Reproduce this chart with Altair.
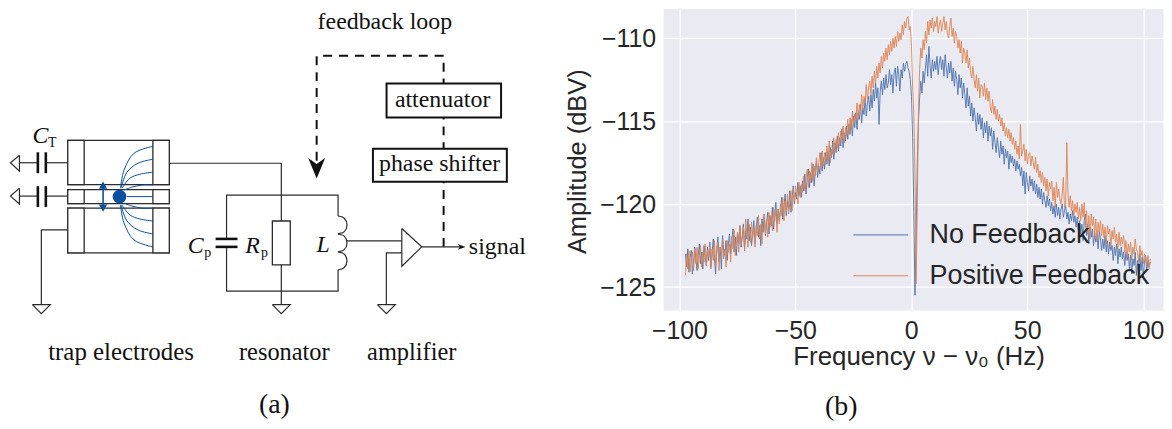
import altair as alt
import pandas as pd

# ---------- measured spectra (dBV), one value per 0.5 Hz bin ----------
START_HZ = -97.4
STEP_HZ = 0.5
NO_FEEDBACK = [
 -123.0,-123.8,-122.7,-124.1,-123.2,-122.8,-124.2,-123.5,-122.6,-123.3,-124.0,-123.1,-122.4,-123.6,-122.9,-123.9,-122.5,-123.2,-123.7,-122.6,
 -123.4,-122.3,-123.8,-122.9,-122.1,-123.3,-124.2,-122.7,-122.0,-123.5,-122.6,-123.9,-121.9,-122.8,-123.1,-122.2,-123.4,-122.4,-121.8,-123.0,
 -122.2,-121.5,-122.9,-122.0,-123.1,-121.7,-122.4,-121.3,-122.6,-121.9,-121.2,-122.8,-121.6,-122.1,-120.9,-122.2,-121.4,-122.5,-121.8,-121.0,
 -122.4,-121.6,-120.8,-122.0,-121.3,-122.5,-120.9,-121.7,-120.6,-121.9,-121.1,-120.5,-121.8,-120.7,-121.3,-120.2,-121.5,-120.6,-119.9,-121.2,
 -120.3,-121.0,-120.4,-119.6,-120.9,-120.1,-119.4,-120.7,-119.8,-120.3,-119.2,-120.5,-119.6,-118.9,-120.0,-119.3,-119.7,-118.7,-119.5,-118.9,
 -119.6,-118.6,-119.2,-118.2,-119.4,-118.5,-117.9,-119.0,-118.1,-118.7,-117.6,-118.9,-118.0,-117.4,-118.4,-117.7,-118.2,-116.9,-118.0,-117.2,
 -117.9,-116.9,-117.6,-116.8,-117.7,-116.6,-117.2,-116.2,-117.3,-116.3,-116.9,-115.9,-116.8,-116.0,-116.5,-115.5,-116.6,-115.7,-116.2,-115.3,
 -116.1,-115.2,-115.8,-114.9,-115.9,-114.7,-115.4,-114.5,-115.5,-114.5,-114.9,-114.0,-115.1,-114.2,-114.6,-113.6,-114.7,-113.9,-113.5,-114.4,
 -113.4,-114.2,-113.1,-113.8,-112.7,-113.6,-113.0,-115.2,-113.2,-112.6,-113.4,-112.4,-113.1,-112.2,-113.0,-112.7,-111.9,-112.8,-112.2,-113.3,
 -112.1,-111.8,-112.9,-111.7,-112.2,-113.2,-111.9,-112.4,-111.5,-112.0,-111.6,-111.4,-111.8,-112.0,-112.5,-113.5,-116.0,-120.5,-125.5,-122.0,
 -117.5,-115.0,-113.6,-112.6,-113.3,-112.0,-112.7,-111.8,-111.0,-112.3,-110.5,-111.6,-112.4,-111.3,-112.0,-111.4,-111.9,-111.1,-112.2,-111.5,
 -111.1,-111.9,-111.3,-112.3,-111.0,-111.8,-112.4,-111.5,-112.1,-111.4,-112.6,-111.8,-112.9,-112.0,-112.5,-113.4,-112.2,-113.0,-112.4,-113.6,
 -112.7,-113.4,-114.2,-113.0,-114.1,-113.5,-114.7,-113.9,-115.0,-114.2,-114.8,-115.6,-114.5,-115.2,-114.6,-115.5,-114.8,-116.0,-115.1,-115.7,
 -115.0,-116.2,-115.3,-115.9,-115.4,-116.7,-115.6,-116.3,-116.9,-116.0,-116.6,-117.2,-116.2,-117.0,-116.5,-117.6,-116.7,-117.2,-116.8,-117.9,
 -117.0,-117.5,-117.1,-117.7,-117.3,-118.0,-117.4,-117.9,-117.6,-118.3,-117.8,-118.9,-118.0,-119.4,-118.1,-118.7,-119.2,-118.3,-118.9,-118.5,
 -119.2,-118.6,-119.4,-118.8,-119.6,-119.0,-119.7,-119.1,-120.0,-119.3,-119.8,-120.2,-119.5,-120.1,-119.7,-120.4,-119.9,-120.6,-120.1,-120.8,
 -120.0,-120.7,-120.2,-120.9,-120.3,-120.0,-120.8,-120.4,-120.1,-120.9,-120.5,-121.2,-120.6,-121.0,-120.4,-121.1,-120.7,-121.4,-120.8,-121.6,
 -121.0,-121.8,-121.2,-122.2,-121.0,-120.6,-121.9,-121.2,-122.4,-121.4,-122.0,-121.5,-122.5,-121.7,-122.3,-121.8,-122.7,-121.6,-122.1,-122.8,
 -122.1,-122.7,-121.9,-122.9,-122.2,-123.0,-122.3,-122.8,-122.5,-123.4,-122.6,-123.1,-122.4,-123.6,-122.7,-123.2,-122.6,-123.3,-122.9,-123.7,
 -122.9,-123.4,-123.0,-123.9,-123.1,-124.2,-123.3,-123.7,-122.9,-124.3,-123.4,-123.8,-123.0,-124.0,-123.2,-124.4,-123.5,-123.1,-124.0,-123.4,
 -123.8,-123.5,
]
POSITIVE_FEEDBACK = [
 -124.3,-123.0,-123.9,-122.8,-124.1,-123.3,-122.9,-124.0,-122.7,-123.6,-122.6,-123.9,-123.1,-122.5,-123.8,-122.9,-123.5,-122.4,-123.7,-122.8,
 -123.2,-122.5,-123.9,-122.7,-123.4,-122.2,-123.7,-122.9,-122.3,-124.0,-122.6,-123.0,-122.1,-123.3,-122.7,-123.8,-122.2,-122.9,-122.4,-123.5,
 -122.0,-122.7,-121.6,-123.1,-122.2,-121.7,-122.9,-121.3,-122.4,-122.1,-121.4,-122.8,-120.9,-121.9,-122.6,-121.2,-122.3,-121.1,-122.0,-121.5,
 -122.6,-121.3,-121.9,-120.7,-122.1,-121.2,-122.4,-121.0,-120.6,-121.8,-120.9,-122.0,-120.5,-121.4,-120.7,-121.6,-120.2,-121.0,-120.4,-121.7,
 -120.3,-121.2,-120.0,-120.7,-119.6,-121.0,-119.8,-120.4,-119.4,-120.6,-119.9,-119.2,-120.4,-119.1,-119.8,-118.9,-119.5,-120.0,-118.7,-119.6,
 -118.8,-119.3,-118.3,-119.2,-118.5,-117.9,-119.0,-118.0,-118.7,-117.5,-118.6,-117.7,-118.3,-117.2,-118.1,-117.5,-116.9,-117.9,-116.8,-117.7,
 -116.9,-117.6,-116.5,-117.3,-116.2,-117.5,-116.7,-117.0,-116.0,-116.9,-116.1,-116.6,-115.7,-116.5,-115.6,-116.2,-115.3,-116.3,-115.4,-115.9,
 -114.9,-115.8,-114.8,-115.5,-114.4,-115.3,-114.6,-115.0,-113.9,-114.9,-114.0,-114.5,-113.4,-114.3,-113.5,-113.9,-112.8,-113.7,-113.0,-112.6,
 -113.4,-112.3,-113.0,-112.0,-112.7,-111.7,-112.4,-111.5,-112.1,-111.1,-111.8,-110.9,-111.4,-110.6,-111.3,-110.4,-111.0,-110.2,-110.8,-110.0,
 -110.6,-109.9,-110.5,-109.6,-110.2,-109.7,-110.1,-109.2,-109.8,-109.0,-109.4,-108.8,-108.7,-109.5,-109.3,-110.5,-113.0,-114.6,-118.0,-124.8,
 -120.0,-114.5,-111.9,-110.6,-111.2,-110.1,-110.7,-109.6,-110.3,-109.0,-109.8,-108.9,-109.4,-108.8,-109.6,-109.0,-109.3,-108.7,-109.7,-109.2,
 -108.9,-109.6,-109.1,-108.7,-109.5,-109.0,-109.7,-110.0,-109.3,-108.8,-109.9,-109.4,-110.3,-109.6,-109.9,-110.6,-110.1,-110.9,-110.2,-111.5,
 -110.6,-110.9,-111.5,-110.7,-111.8,-111.2,-112.1,-112.4,-111.7,-112.5,-113.0,-112.2,-113.2,-112.4,-113.6,-112.8,-112.9,-113.5,-112.7,-113.7,
 -113.0,-113.8,-113.2,-114.2,-114.5,-113.7,-114.6,-114.1,-114.9,-114.3,-115.0,-114.6,-115.3,-114.8,-115.6,-115.1,-115.9,-115.4,-116.0,-115.5,
 -116.2,-115.7,-116.4,-116.0,-116.7,-116.2,-117.0,-116.5,-117.3,-115.2,-117.1,-116.8,-116.4,-117.4,-116.7,-117.6,-117.0,-116.9,-117.7,-117.1,
 -117.5,-117.9,-117.2,-118.1,-117.6,-118.4,-118.0,-118.7,-118.1,-118.9,-118.4,-119.2,-118.5,-119.5,-118.7,-119.1,-118.6,-119.8,-119.0,-120.2,
 -118.7,-119.6,-119.1,-119.7,-120.0,-119.4,-118.4,-120.2,-120.1,-116.3,-119.4,-120.2,-119.5,-120.4,-119.8,-120.7,-120.0,-120.5,-119.9,-120.9,
 -120.2,-121.0,-120.0,-120.8,-119.9,-121.4,-120.4,-121.8,-120.7,-122.1,-120.6,-121.3,-120.8,-121.9,-120.9,-122.2,-121.1,-121.7,-121.0,-121.9,
 -121.2,-122.0,-121.4,-122.4,-121.3,-121.8,-121.5,-122.6,-121.6,-122.1,-121.4,-122.3,-121.8,-122.8,-121.7,-122.5,-122.0,-122.4,-121.9,-122.9,
 -122.2,-123.2,-122.4,-122.9,-122.3,-123.4,-122.6,-123.0,-122.1,-122.7,-122.9,-123.5,-122.5,-123.1,-122.8,-123.6,-123.0,-123.3,-123.7,-123.1,
 -123.9,-123.3,
]
SERIES = ["No Feedback", "Positive Feedback"]
COLORS = ["#4C72B0", "#DD8452"]
X_TICKS = [-100, -50, 0, 50, 100]
Y_TICKS = [-110, -115, -120, -125]

SERIF = "Liberation Serif"
SANS = "Liberation Sans"
INK = "#262626"
WIRE = "#2b2b2b"
BLUE = "#0A50A1"

# ---------- schematic geometry, in drawing units ----------
WIRES = {
 "top_cap_l": [(17,162.5),(35,162.5)], "top_cap_r": [(44,162.5),(65.5,162.5)],
 "mid_cap_l": [(17,196),(35,196)], "mid_cap_r": [(44,196),(65.5,196)],
 "tri_t": [(17,155),(8,162.5),(17,171),(17,155)],
 "tri_m": [(17,188),(8,196),(17,204),(17,188)],
 "bot_lead": [(65.5,230),(39,230),(39,305)],
 "gnd1": [(30,305),(48,305),(39,314),(30,305)],
 "res_lead": [(167.5,163),(280,163),(280,305)],
 "gnd2": [(271,305),(289,305),(280,314),(271,305)],
 "loop_top": [(225,239),(225,195),(337,195),(337,216)],
 "loop_bot": [(225,247),(225,291.5),(337,291.5),(337,270)],
 "tap": [(346,241),(401,241)],
 "amp": [(401,228.5),(421,247),(401,266.5),(401,228.5)],
 "amp_lead": [(401,253),(385.5,253),(385.5,305)],
 "gnd3": [(376.5,305),(394.5,305),(385.5,314),(376.5,305)],
 "out": [(421,247),(460,247)],
}
COIL = [(337,216),(343,218),(346,225),(343,232),(337,234),(343,236),(346,243),(343,250),
        (337,252),(343,254),(346,261),(343,268),(337,270)]
PLATES = {
 "ct1": [(35.5,152),(35.5,173)], "ct2": [(43.5,152),(43.5,173)],
 "cm1": [(35.5,186),(35.5,207)], "cm2": [(43.5,186),(43.5,207)],
 "cp1": [(214,239),(236,239)], "cp2": [(214,247),(236,247)],
}
FEEDBACK = [(443,247),(443,55),(315.5,55),(315.5,165)]
FIELD = {
 "f1": [(118.5,188),(122,170),(132,153),(151,146)],
 "f2": [(119,188),(125,172),(136,163),(151,159)],
 "f3": [(120,188),(128,178),(138,174),(151,172)],
 "f4": [(122,190),(130,187),(140,185),(151,185)],
 "f5": [(125,196.5),(151,196.5)],
 "f6": [(122,203),(130,206),(140,208),(151,208)],
 "f7": [(120,205),(128,215),(138,219),(151,221)],
 "f8": [(119,205),(125,221),(136,230),(151,234)],
 "f9": [(118.5,205),(122,223),(132,240),(151,247)],
}
ELECTRODES = [(65.5,167.5,140,184.5),(65.5,167.5,189.5,203.5),(65.5,167.5,208,253),
              (65.5,82,140,184.5),(65.5,82,189.5,203.5),(65.5,82,208,253),
              (151,167.5,140,184.5),(151,167.5,189.5,203.5),(151,167.5,208,253),
              (271,289,221,265)]
BOXES = [(385.7,500.7,83,117),(372,506.5,148.5,181.5)]
LABELS = [("feedback loop",384,28,24),("attenuator",442,107,24),("phase shifter",439,171,24),
          ("signal",497,254,24),("trap electrodes",119,361,25),("resonator",283,361,24.5),
          ("amplifier",411,361,24.5),("(a)",273,414,28),("T",50,147,14),("p",206,257,14),("p",263,257,14)]
ITALICS = [("C",38,143,24),("C",194,253,24),("R",251,253,24),("L",322,252,24)]

def path_frame(paths):
    return pd.DataFrame([{"path":k,"i":i,"x":p[0],"y":p[1]} for k,v in paths.items() for i,p in enumerate(v)])

LEFT_W = 552
xs = alt.Scale(domain=[12.5, 12.5+LEFT_W], nice=False, zero=False)
ys = alt.Scale(domain=[429, 8], nice=False, zero=False)
X = alt.X("x:Q", scale=xs, axis=None)
Y = alt.Y("y:Q", scale=ys, axis=None)

def lines(paths, **kw):
    return alt.Chart(path_frame(paths)).mark_line(**kw).encode(X, Y, detail="path:N", order="i:Q")

def rects(rows, **kw):
    df = pd.DataFrame(rows, columns=["x","x2","y","y2"])
    return alt.Chart(df).mark_rect(**kw).encode(X, x2="x2:Q", y=Y, y2="y2:Q")

def texts(rows, **kw):
    df = pd.DataFrame(rows, columns=["t","x","y","s"])
    return alt.Chart(df).mark_text(font=SERIF, color="#111111", baseline="alphabetic", align="center", **kw).encode(
        X, Y, text="t:N", size=alt.Size("s:Q", scale=None, legend=None))

def point(x, y, **kw):
    return alt.Chart(pd.DataFrame({"x":[x],"y":[y]})).mark_point(filled=True, opacity=1, **kw).encode(X, Y)

schematic = alt.layer(
    lines({"fb":FEEDBACK}, stroke="#111111", strokeWidth=2, strokeDash=[9,7]),
    lines(WIRES, stroke=WIRE, strokeWidth=1.2),
    lines({"coil":COIL}, stroke=WIRE, strokeWidth=1.2, interpolate="cardinal"),
    lines(PLATES, stroke="#111111", strokeWidth=2.6),
    rects(ELECTRODES, fill="white", stroke=WIRE, strokeWidth=1.3),
    rects(BOXES, fill="white", stroke="#111111", strokeWidth=2),
    lines(FIELD, stroke=BLUE, strokeWidth=1, interpolate="catmull-rom"),
    lines({"motion":[(101,183),(101,210)]}, stroke=BLUE, strokeWidth=1.6),
    point(101, 185, shape="triangle-up", size=70, color=BLUE),
    point(101, 208, shape="triangle-down", size=70, color=BLUE),
    point(117.5, 196.5, shape="circle", size=190, color=BLUE),
    point(315.5, 168, shape="M-1,-1.2L0,-0.5L1,-1.2L0,1.2Z", size=290, color="#111111"),
    point(461, 247, shape="M-1,-0.7L-0.4,0L-1,0.7L1,0Z", size=64, color="#111111"),
    texts(LABELS),
    texts(ITALICS, fontStyle="italic"),
).properties(width=LEFT_W, height=421, view=alt.ViewConfig(stroke=None, fill=None))

# ---------- spectrum panel ----------
freq = [START_HZ + i*STEP_HZ for i in range(len(NO_FEEDBACK))]
spec = pd.DataFrame({"f": freq*2, "a": NO_FEEDBACK + POSITIVE_FEEDBACK,
                     "s": [SERIES[0]]*len(freq) + [SERIES[1]]*len(freq)})
fx = alt.Scale(domain=[-106.8, 108.8], nice=False, zero=False)
fy = alt.Scale(domain=[-126.42, -108.24], nice=False, zero=False)

line = alt.Chart(spec).mark_line(strokeWidth=0.9).encode(
    x=alt.X("f:Q", scale=fx, axis=alt.Axis(
        values=X_TICKS, title="Frequency ν − ν₀ (Hz)", titleFont=SANS, titleFontSize=26, titleFontWeight="normal",
        titleColor=INK, labelFont=SANS, labelFontSize=25, labelColor=INK, tickSize=0, domain=False, titleX=256,
        gridColor="white", gridWidth=1.2, gridOpacity=1, labelPadding=8, titlePadding=0, labelFlush=False)),
    y=alt.Y("a:Q", scale=fy, axis=alt.Axis(
        values=Y_TICKS, title="Amplitude (dBV)", titleFont=SANS, titleFontSize=25.5, titleFontWeight="normal",
        titleColor=INK, labelFont=SANS, labelFontSize=25, labelColor=INK, tickSize=0, domain=False, titleY=153,
        gridColor="white", gridWidth=1.2, gridOpacity=1, labelPadding=8, titlePadding=9)),
    color=alt.Color("s:N", scale=alt.Scale(domain=SERIES, range=COLORS), legend=alt.Legend(
        orient="none", legendX=190, legendY=199, title=None, symbolType="stroke", symbolSize=3025,
        symbolStrokeWidth=1, rowPadding=-19, labelFont=SANS, labelFontSize=27, labelColor=INK,
        labelOffset=21, zindex=1, labelLimit=400)),
    order="s:N",
)
caption = alt.Chart(pd.DataFrame({"f":[-30.2],"a":[-132.7],"t":["(b)"]})).mark_text(
    font=SERIF, fontSize=28, color="#111111", baseline="alphabetic", align="center").encode(
    x=alt.X("f:Q", scale=fx), y=alt.Y("a:Q", scale=fy), text="t:N")
spectrum = alt.layer(line, caption).properties(
    width=502, height=303, view=alt.ViewConfig(stroke=None, fill="#EAEAF2"))

chart = alt.hconcat(schematic, spectrum, spacing=99.5, padding=0, background="white", bounds="flush").resolve_scale(
    x="independent", y="independent", color="independent", size="independent")
chart.save("out.html", embed_options={"renderer": "svg", "actions": False})
